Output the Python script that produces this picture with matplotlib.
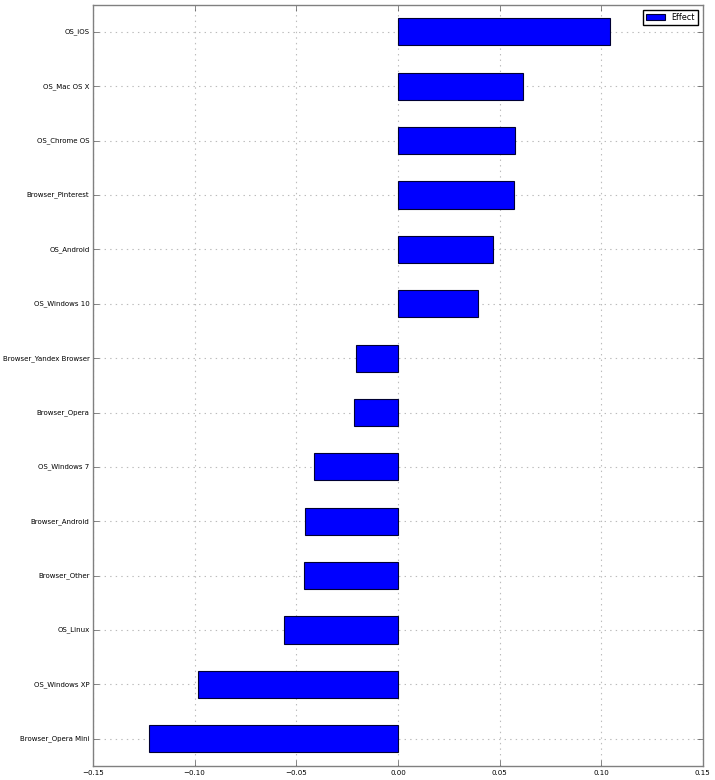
import matplotlib
matplotlib.use("Agg")
import matplotlib.pyplot as plt
import numpy as np

# ── Data (bottom to top, as drawn) ────────────────────────────────────────────
labels = [
    "Browser_Opera Mini", "OS_Windows XP", "OS_Linux", "Browser_Other",
    "Browser_Android", "OS_Windows 7", "Browser_Opera", "Browser_Yandex Browser",
    "OS_Windows 10", "OS_Android", "Browser_Pinterest", "OS_Chrome OS",
    "OS_Mac OS X", "OS_iOS",
]
effect = [
    -0.1225, -0.0982, -0.0560, -0.0464,
    -0.0457, -0.0413, -0.0214, -0.0208,
    0.0395, 0.0469, 0.0573, 0.0574,
    0.0616, 0.1041,
]

plt.style.use("classic")
fig = plt.figure(figsize=(7.15, 7.8), dpi=100)
ax = fig.add_axes([0.130, 0.018, 0.853, 0.976])
ax.set_axisbelow(True)

y = np.arange(len(labels))
ax.barh(y, effect, height=0.5, color="b", edgecolor="#000033", linewidth=0.8,
        label="Effect", zorder=3)

ax.set_yticks(y)
ax.set_yticklabels(labels, fontsize=5.0)
ax.set_ylim(-0.5, len(labels) - 0.5)
ax.set_xlim(-0.15, 0.15)
ax.set_xticks([-0.15, -0.10, -0.05, 0.00, 0.05, 0.10, 0.15])
ax.tick_params(axis="x", labelsize=5.1, pad=3)
ax.tick_params(axis="y", pad=2.5)
ax.tick_params(colors="#555555", labelcolor="black")
ax.grid(True, color="#bbbbbb", linestyle=":", linewidth=0.8, zorder=0)
for sp in ax.spines.values():
    sp.set_color("#808080")

ax.legend(loc="upper right", fontsize=5.8, handlelength=2.3,
          borderaxespad=0.6)

fig.savefig("out.png", dpi=100)
